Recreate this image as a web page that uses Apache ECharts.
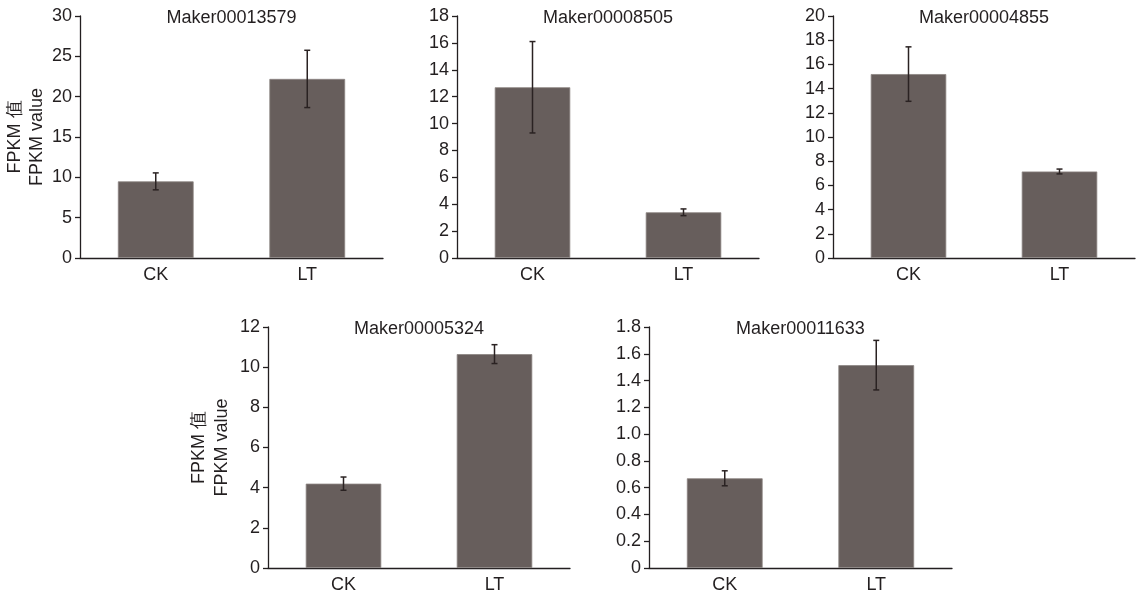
<!DOCTYPE html>
<html>
<head>
<meta charset="utf-8">
<script src="https://cdn.jsdelivr.net/npm/echarts@6/dist/echarts.min.js"></script>
<style>
html,body{margin:0;padding:0;background:#fff;}
#chart{width:1141px;height:594px;}
</style>
</head>
<body>
<div id="chart"></div>
<script>
// ---- data ----
const categories = ['CK', 'LT'];
const titles = ['Maker00013579', 'Maker00008505', 'Maker00004855', 'Maker00005324', 'Maker00011633'];
const means = [
  [9.5, 22.2],
  [12.7, 3.4],
  [15.2, 7.15],
  [4.2, 10.65],
  [0.67, 1.515]
];
const errors = [
  [1.05, 3.55],
  [3.4, 0.25],
  [2.25, 0.2],
  [0.33, 0.47],
  [0.056, 0.185]
];
const yMax = [30, 18, 20, 12, 1.8];
const yInterval = [5, 2, 2, 2, 0.2];
const yLabelDecimals = [0, 0, 0, 0, 1];
const yAxisTitleLines = ['FPKM 值', 'FPKM value'];

// ---- layout (pixels) ----
const grids = [
  {left: 80, top: 16, width: 303, height: 242},
  {left: 457, top: 16, width: 302, height: 242},
  {left: 833, top: 16, width: 302, height: 242},
  {left: 268, top: 327, width: 302, height: 241},
  {left: 649, top: 327, width: 303, height: 241}
];
const textColor = '#231f20';
const barColor = '#675e5c';
const fontFamily = 'Liberation Sans, Arial, sans-serif';
const fs = 18;

const chart = echarts.init(document.getElementById('chart'), null, {renderer: 'canvas'});

const xAxis = [], yAxis = [], series = [], graphic = [];
grids.forEach((g, i) => {
  xAxis.push({
    type: 'category', gridIndex: i, data: categories,
    axisLine: {lineStyle: {color: textColor, width: 1.3}},
    axisTick: {alignWithLabel: true, length: 5, lineStyle: {color: textColor, width: 1.3}},
    axisLabel: {color: textColor, fontSize: fs, fontFamily: fontFamily, margin: 8},
    splitLine: {show: false}
  });
  const dec = yLabelDecimals[i];
  yAxis.push({
    type: 'value', gridIndex: i, min: 0, max: yMax[i], interval: yInterval[i],
    axisLine: {show: true, lineStyle: {color: textColor, width: 1.3}},
    axisTick: {show: true, length: 5, lineStyle: {color: textColor, width: 1.3}},
    axisLabel: {color: textColor, fontSize: fs, fontFamily: fontFamily, margin: 8,
      formatter: v => (v === 0 ? '0' : v.toFixed(dec))},
    splitLine: {show: false}
  });
  series.push({
    type: 'bar', xAxisIndex: i, yAxisIndex: i,
    data: means[i], barWidth: '50%',
    itemStyle: {color: barColor, borderColor: '#8c8482', borderWidth: 0.8},
    silent: true
  });
  series.push({
    type: 'custom', xAxisIndex: i, yAxisIndex: i,
    data: means[i].map((m, k) => [k, m - errors[i][k], m + errors[i][k]]),
    renderItem: function (params, api) {
      const x = api.value(0);
      const lo = api.coord([x, api.value(1)]);
      const hi = api.coord([x, api.value(2)]);
      const cw = 3;
      const style = {stroke: '#2a2222', lineWidth: 1.5, fill: null};
      return {
        type: 'group',
        children: [
          {type: 'line', shape: {x1: lo[0], y1: lo[1], x2: hi[0], y2: hi[1]}, style: style},
          {type: 'line', shape: {x1: lo[0] - cw, y1: lo[1], x2: lo[0] + cw, y2: lo[1]}, style: style},
          {type: 'line', shape: {x1: hi[0] - cw, y1: hi[1], x2: hi[0] + cw, y2: hi[1]}, style: style}
        ]
      };
    },
    z: 10, silent: true
  });
  graphic.push({
    type: 'text',
    x: g.left + g.width / 2, y: g.top + 2,
    style: {text: titles[i], fill: textColor, font: fs + 'px ' + fontFamily,
      textAlign: 'center', textVerticalAlign: 'middle'}
  });
});

// y-axis titles for the first panel of each row
const yTitlePos = [
  {axis: 0, offsets: [-64.5, -42.5]},
  {axis: 3, offsets: [-69, -46]}
];
yTitlePos.forEach(p => {
  const g = grids[p.axis];
  yAxisTitleLines.forEach((t, j) => {
    graphic.push({
      type: 'text',
      x: g.left + p.offsets[j], y: g.top + g.height / 2,
      rotation: Math.PI / 2,
      style: {text: t, fill: textColor, font: fs + 'px ' + fontFamily,
        textAlign: 'center', textVerticalAlign: 'middle'}
    });
  });
});

chart.setOption({
  animation: false,
  backgroundColor: '#ffffff',
  grid: grids.map(g => Object.assign({containLabel: false}, g)),
  xAxis: xAxis,
  yAxis: yAxis,
  series: series,
  graphic: graphic
});
</script>
</body>
</html>
